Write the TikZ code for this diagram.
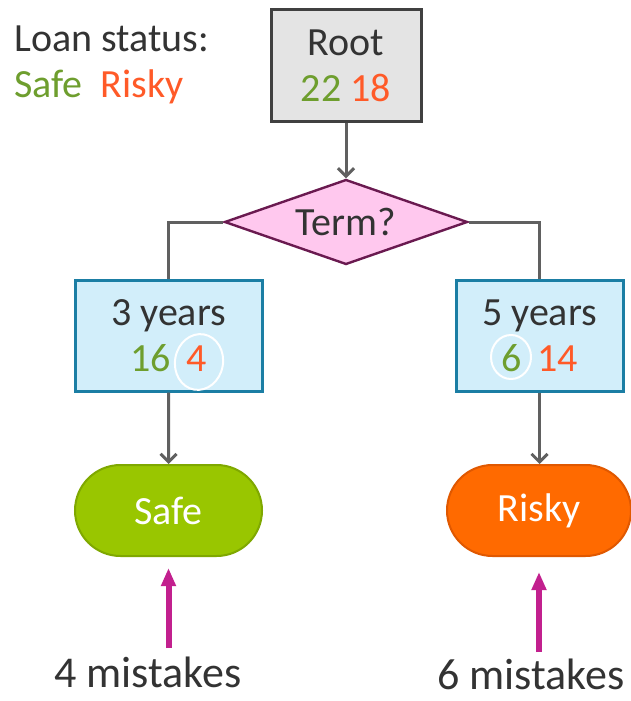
\documentclass[tikz,border=0pt]{standalone}
\usepackage{fontspec}
\setmainfont{Carlito}
\usetikzlibrary{shapes.geometric,shapes.misc,arrows.meta}
\definecolor{txtdark}{HTML}{333333}
\definecolor{safetxt}{HTML}{6E9E2E}
\definecolor{riskytxt}{HTML}{FF5A28}
\definecolor{rootfill}{HTML}{E4E4E4}
\definecolor{rootline}{HTML}{404040}
\definecolor{termfill}{HTML}{FFC8EE}
\definecolor{termline}{HTML}{6A1A50}
\definecolor{yearfill}{HTML}{D2EEFA}
\definecolor{yearline}{HTML}{1B7EA4}
\definecolor{safefill}{HTML}{99C600}
\definecolor{safeline}{HTML}{7FA800}
\definecolor{riskyfill}{HTML}{FF6A00}
\definecolor{riskyline}{HTML}{E05800}
\definecolor{flowgray}{HTML}{606060}
\definecolor{hintpink}{HTML}{C2208E}
\newcommand{\safetext}[1]{\textcolor{safetxt}{#1}}
\newcommand{\riskytext}[1]{\textcolor{riskytxt}{#1}}
\begin{document}
\begin{tikzpicture}[x=0.5pt,y=-0.5pt,
  every node/.style={font=\fontsize{20}{23}\selectfont, text=txtdark},
  rootbox/.style={draw=rootline, fill=rootfill, line width=1.5pt,
    minimum width=75pt, minimum height=56pt, inner sep=0pt, align=center},
  termdia/.style={diamond, aspect=2.9, draw=termline, fill=termfill, line width=1.2pt,
    minimum width=121.5pt, minimum height=42.5pt, inner sep=0pt},
  yearbox/.style={draw=yearline, fill=yearfill, line width=1.5pt,
    minimum height=55.5pt, inner sep=0pt, align=center},
  pill/.style={rounded rectangle, line width=1pt, minimum width=93.5pt,
    minimum height=45.5pt, inner sep=0pt, text=white},
  flow/.style={draw=flowgray, line width=1.5pt, -{Straight Barb[length=4pt,width=8pt]}},
  branch/.style={draw=flowgray, line width=1.5pt},
  hint/.style={draw=hintpink, line width=3pt, -{Triangle[length=9pt,width=7pt]}},
  ring/.style={draw=white, line width=1pt},
  mistakes/.style={font=\fontsize{22}{25}\selectfont, inner sep=2pt}]
  \useasboundingbox (0,0) rectangle (631,701);
  % legend
  \node[anchor=north west, align=left, inner sep=0pt] (legend) at (14,25)
    {Loan status:\\\safetext{Safe}~~\riskytext{Risky}};
  % tree
  \node[rootbox] (root) at (346,66) {Root\\\safetext{22}~\riskytext{18}};
  \node[termdia] (term) at (346,222) {Term?};
  \node[yearbox, minimum width=93.5pt] (three) at (168.5,335.5)
    {3 years\\\safetext{16}\hspace{8pt}\riskytext{4}};
  \node[yearbox, minimum width=83.5pt] (five) at (539.5,336)
    {5 years\\\safetext{6}\hspace{8pt}\riskytext{14}};
  \node[pill, fill=safefill, draw=safeline] (safe) at (168.5,510.5) {Safe};
  \node[pill, fill=riskyfill, draw=riskyline, minimum width=92pt] (risky) at (539,510.5) {Risky};
  \draw[flow] (root) -- (term);
  \draw[branch] (term.west) -| (three.north);
  \draw[branch] (term.east) -| (five.north);
  \draw[flow] (three) -- (safe);
  \draw[flow] (five.south) -- (five.south |- risky.north);
  % hand drawn rings
  \draw[ring, rotate around={-10:(199,362)}] (199,362) ellipse [x radius=12pt, y radius=14pt];
  \draw[ring] (511,357) ellipse [x radius=10pt, y radius=11pt];
  % mistakes
  \node[mistakes] (mfour) at (148,672) {4 mistakes};
  \node[mistakes] (msix) at (531,674) {6 mistakes};
  \draw[hint, shorten <=2pt, shorten >=5.5pt] (safe.south |- mfour.north) -- (safe.south);
  \draw[hint, shorten <=1pt, shorten >=7.5pt] (risky.south |- msix.north) -- (risky.south);
\end{tikzpicture}
\end{document}
